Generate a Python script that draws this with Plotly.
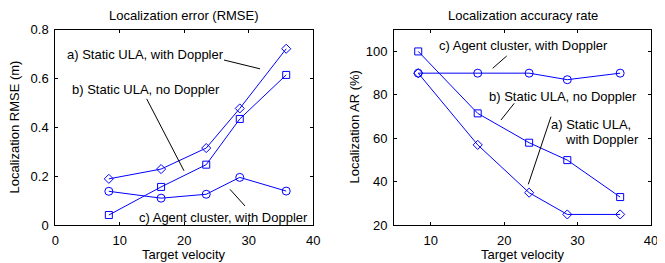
import plotly.graph_objects as go

# ---- data ----
velocity = [8.3, 16.4, 23.4, 28.6, 35.8]

rmse_static_doppler = [0.19, 0.23, 0.316, 0.478, 0.722]
rmse_static_nodoppler = [0.042, 0.157, 0.248, 0.435, 0.615]
rmse_agent_cluster = [0.139, 0.111, 0.127, 0.196, 0.140]

ar_static_doppler = [90, 57, 35, 25, 25]
ar_static_nodoppler = [100, 71.5, 58, 50, 33]
ar_agent_cluster = [90, 90, 90, 87, 90]

left_title = "Localization error (RMSE)"
right_title = "Localization accuracy rate"
x_label = "Target velocity"
left_ylabel = "Localization RMSE (m)"
right_ylabel = "Localization AR (%)"

W, H = 665, 263
OX, OY = 8, 8  # default page body margin
FONT = "Liberation Sans, Arial, Helvetica, sans-serif"
BLUE = "#0000ff"

def px(x):
    return (x - OX) / W

def py(y):
    return (H - (y - OY)) / H

fig = go.Figure()

def add_series(x, y, symbol, xa, ya, size):
    fig.add_trace(go.Scatter(
        x=x, y=y, mode="lines+markers", xaxis=xa, yaxis=ya,
        line=dict(color=BLUE, width=1),
        marker=dict(symbol=symbol, size=size, color=BLUE, line=dict(color=BLUE, width=1)),
        showlegend=False, hoverinfo="skip", cliponaxis=False))

add_series(velocity, rmse_static_doppler, "diamond-open", "x", "y", 7)
add_series(velocity, rmse_static_nodoppler, "square-open", "x", "y", 7)
add_series(velocity, rmse_agent_cluster, "circle-open", "x", "y", 8)

add_series(velocity, ar_static_doppler, "diamond-open", "x2", "y2", 7)
add_series(velocity, ar_static_nodoppler, "square-open", "x2", "y2", 7)
add_series(velocity, ar_agent_cluster, "circle-open", "x2", "y2", 8)

y_dom = [py(225.3), py(29.7)]
axis_common = dict(showgrid=False, zeroline=False, showline=True, linecolor="black",
                   linewidth=1, mirror="ticks", ticks="inside", ticklen=3,
                   tickcolor="black", ticklabelstandoff=3, automargin=False,
                   tickfont=dict(family=FONT, size=13, color="black"))

fig.update_layout(
    width=W, height=H, margin=dict(l=0, r=0, t=0, b=0, autoexpand=False),
    paper_bgcolor="white", plot_bgcolor="white",
    xaxis=dict(domain=[px(55.3), px(313.3)], range=[0, 40], tickvals=[0, 10, 20, 30, 40],
               anchor="y", **axis_common),
    yaxis=dict(domain=y_dom, range=[0, 0.8], tickvals=[0, 0.2, 0.4, 0.6, 0.8],
               anchor="x", **axis_common),
    xaxis2=dict(domain=[px(394), px(651)], range=[5, 40], tickvals=[10, 20, 30, 40],
                anchor="y2", **axis_common),
    yaxis2=dict(domain=y_dom, range=[20, 110], tickvals=[20, 40, 60, 80, 100],
                anchor="x2", **axis_common),
)

# leader lines
lines = [
    ("x", "y", 26.16, 0.676, 31.74, 0.640),
    ("x", "y", 14.17, 0.517, 19.95, 0.223),
    ("x", "y", 27.09, 0.147, 29.41, 0.079),
    ("x2", "y2", 18.44, 92.25, 20.35, 97.9),
    ("x2", "y2", 19.57, 68.46, 21.38, 76.14),
    ("x2", "y2", 23.29, 38.87, 26.38, 69.98),
]
for xr, yr, x0, y0, x1, y1 in lines:
    fig.add_shape(type="line", xref=xr, yref=yr, x0=x0, y0=y0, x1=x1, y1=y1,
                  line=dict(color="black", width=1))

def label(text, xr, yr, x, y, size=13, anchor="left"):
    fig.add_annotation(text=text, xref=xr, yref=yr, x=x, y=y, showarrow=False,
                       xanchor=anchor, yanchor="middle",
                       font=dict(family=FONT, size=size, color="black"))

label("a) Static ULA, with Doppler", "x", "y", 1.5, 0.699)
label("b) Static ULA, no Doppler", "x", "y", 2.28, 0.556)
label("c) Agent cluster, with Doppler", "x", "y", 12.7, 0.033)
label("c) Agent cluster, with Doppler", "x2", "y2", 10.9, 102.5)
label("b) Static ULA, no Doppler", "x2", "y2", 17.62, 79.2)
label("a) Static ULA,", "x2", "y2", 26.1, 66.2)
label("with Doppler", "x2", "y2", 28.06, 59.25)

# titles
def paper_text(text, x, y, size=13, angle=0):
    fig.add_annotation(text=text, xref="paper", yref="paper", x=px(x), y=py(y),
                       showarrow=False, xanchor="center", yanchor="middle", textangle=angle,
                       font=dict(family=FONT, size=size, color="black"))

paper_text(left_title, 184.3, 15)
paper_text(right_title, 522.5, 15)
paper_text(x_label, 184.3, 254)
paper_text(x_label, 522.5, 254)
paper_text(left_ylabel, 14, 127.5, angle=-90)
paper_text(right_ylabel, 354, 127.5, angle=-90)

fig.write_html("out.html")
